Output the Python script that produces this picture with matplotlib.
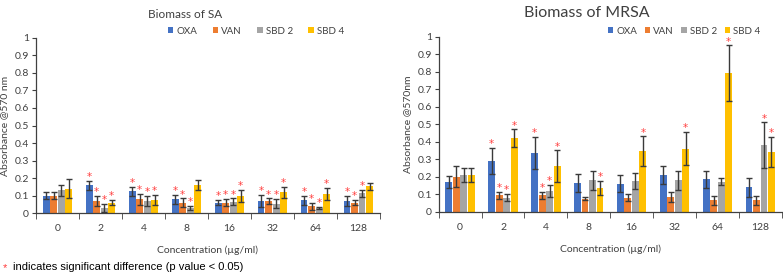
"""Biomass of SA / MRSA grouped bar charts with error bars and significance stars."""
import matplotlib

matplotlib.use("Agg")
import matplotlib.pyplot as plt
import numpy as np

plt.rcParams["font.family"] = ["Lato", "DejaVu Sans"]

concs = ["0", "2", "4", "8", "16", "32", "64", "128"]
series = ["OXA", "VAN", "SBD 2", "SBD 4"]
colors = ["#4472C4", "#ED7D31", "#A5A5A5", "#FFC000"]

# SA
sa_oxa = [0.10, 0.16, 0.125, 0.08, 0.06, 0.07, 0.075, 0.07]
sa_van = [0.10, 0.07, 0.08, 0.06, 0.06, 0.07, 0.04, 0.06]
sa_sbd2 = [0.13, 0.03, 0.07, 0.03, 0.065, 0.055, 0.03, 0.115]
sa_sbd4 = [0.14, 0.06, 0.075, 0.16, 0.10, 0.12, 0.11, 0.155]
sa_oxa_err = [0.02, 0.025, 0.025, 0.025, 0.015, 0.035, 0.025, 0.03]
sa_van_err = [0.02, 0.03, 0.03, 0.025, 0.02, 0.015, 0.02, 0.015]
sa_sbd2_err = [0.03, 0.025, 0.03, 0.012, 0.02, 0.025, 0.008, 0.02]
sa_sbd4_err = [0.055, 0.015, 0.03, 0.03, 0.035, 0.03, 0.035, 0.02]
sa_star_oxa = [0, 1, 1, 1, 1, 1, 1, 1]
sa_star_van = [0, 1, 1, 1, 1, 1, 1, 1]
sa_star_sbd2 = [0, 1, 1, 1, 1, 1, 1, 1]
sa_star_sbd4 = [0, 1, 1, 0, 1, 1, 1, 0]

# MRSA
mr_oxa = [0.17, 0.29, 0.335, 0.165, 0.16, 0.21, 0.185, 0.14]
mr_van = [0.20, 0.095, 0.093, 0.075, 0.08, 0.085, 0.065, 0.065]
mr_sbd2 = [0.21, 0.08, 0.12, 0.18, 0.175, 0.18, 0.17, 0.38]
mr_sbd4 = [0.21, 0.42, 0.26, 0.135, 0.345, 0.36, 0.79, 0.34]
mr_oxa_err = [0.035, 0.075, 0.09, 0.05, 0.05, 0.05, 0.05, 0.055]
mr_van_err = [0.06, 0.02, 0.022, 0.01, 0.02, 0.03, 0.025, 0.025]
mr_sbd2_err = [0.04, 0.02, 0.035, 0.055, 0.045, 0.055, 0.02, 0.13]
mr_sbd4_err = [0.04, 0.05, 0.09, 0.04, 0.085, 0.095, 0.16, 0.085]
mr_star_oxa = [0, 1, 1, 0, 0, 0, 0, 0]
mr_star_van = [0, 1, 1, 0, 0, 0, 0, 0]
mr_star_sbd2 = [0, 1, 1, 0, 0, 0, 0, 1]
mr_star_sbd4 = [0, 1, 1, 1, 1, 1, 1, 1]


def draw(ax, vals, errs, stars, ylabel):
    x = np.arange(len(concs))
    w = 0.16
    step = 0.175
    for i, (v, e, s) in enumerate(zip(vals, errs, stars)):
        pos = x + (i - 1.5) * step
        ax.bar(pos, v, w, color=colors[i], label=series[i], zorder=2)
        ax.errorbar(pos, v, yerr=e, fmt="none", ecolor="#3a3a3a",
                    elinewidth=1.0, capsize=2.2, capthick=1.0, zorder=3)
        for p, vv, ee, ss in zip(pos, v, e, s):
            if ss:
                ax.text(p, vv + ee + 0.022, "*", color="#FF4040", ha="center",
                        va="center", fontsize=7.5, family=["DejaVu Sans"])
    ax.set_xlim(-0.5, len(concs) - 0.5)
    ax.set_ylim(0, 1)
    ax.set_yticks(np.arange(0, 1.01, 0.1))
    ax.set_yticklabels(["0"] + [f"{t:.1f}" for t in np.arange(0.1, 0.95, 0.1)] + ["1"])
    ax.set_xticks(x)
    ax.set_xticklabels(concs)
    ax.set_xticks(np.arange(-0.5, len(concs)), minor=True)
    ax.tick_params(axis="x", which="major", length=0, pad=8, labelsize=7.5, colors="#404040")
    ax.tick_params(axis="x", which="minor", length=4, color="#404040")
    ax.tick_params(axis="y", length=3, labelsize=7.5, colors="#404040", pad=2)
    for sp in ("top", "right"):
        ax.spines[sp].set_visible(False)
    for sp in ("left", "bottom"):
        ax.spines[sp].set_color("#404040")
        ax.spines[sp].set_linewidth(0.9)
    ax.set_xlabel("Concentration (µg/ml)", fontsize=7.5, color="#404040", labelpad=9)
    ax.set_ylabel(ylabel, fontsize=7.5, color="#404040", labelpad=4)


fig = plt.figure(figsize=(7.83, 2.78), dpi=100)
ax1 = fig.add_axes([0.046, 0.2327, 0.439, 0.6317])
ax2 = fig.add_axes([0.5603, 0.2385, 0.438, 0.6295])

draw(ax1, [sa_oxa, sa_van, sa_sbd2, sa_sbd4],
     [sa_oxa_err, sa_van_err, sa_sbd2_err, sa_sbd4_err],
     [sa_star_oxa, sa_star_van, sa_star_sbd2, sa_star_sbd4],
     "Absorbance @570 nm")
draw(ax2, [mr_oxa, mr_van, mr_sbd2, mr_sbd4],
     [mr_oxa_err, mr_van_err, mr_sbd2_err, mr_sbd4_err],
     [mr_star_oxa, mr_star_van, mr_star_sbd2, mr_star_sbd4],
     "Absorbance @570nm")

fig.text(185 / 783, 1 - 15 / 278, "Biomass of SA", ha="center", va="center",
         fontsize=8.5, color="#404040")
fig.text(587 / 783, 1 - 13 / 278, "Biomass of MRSA", ha="center", va="center",
         fontsize=11.5, color="#404040")

for ax, cx, cs in ((ax1, 256 / 783, 1.6), (ax2, 684 / 783, 0.8)):
    ax.legend(loc="center", bbox_to_anchor=(cx, 1 - 31 / 278), bbox_transform=fig.transFigure,
              ncol=4, frameon=False, fontsize=7, handlelength=0.55, handleheight=0.55,
              handletextpad=0.3, columnspacing=cs, labelcolor="#404040")

fig.text(0.004, 1 - 268 / 278, "*", color="#FF3B3B", fontsize=8, va="center",
         family=["Liberation Sans"])
fig.text(0.016, 1 - 267 / 278, "indicates significant difference (p value < 0.05)",
         fontsize=8, va="center", color="black", family=["Liberation Sans"])

fig.savefig("out.png", dpi=100)
